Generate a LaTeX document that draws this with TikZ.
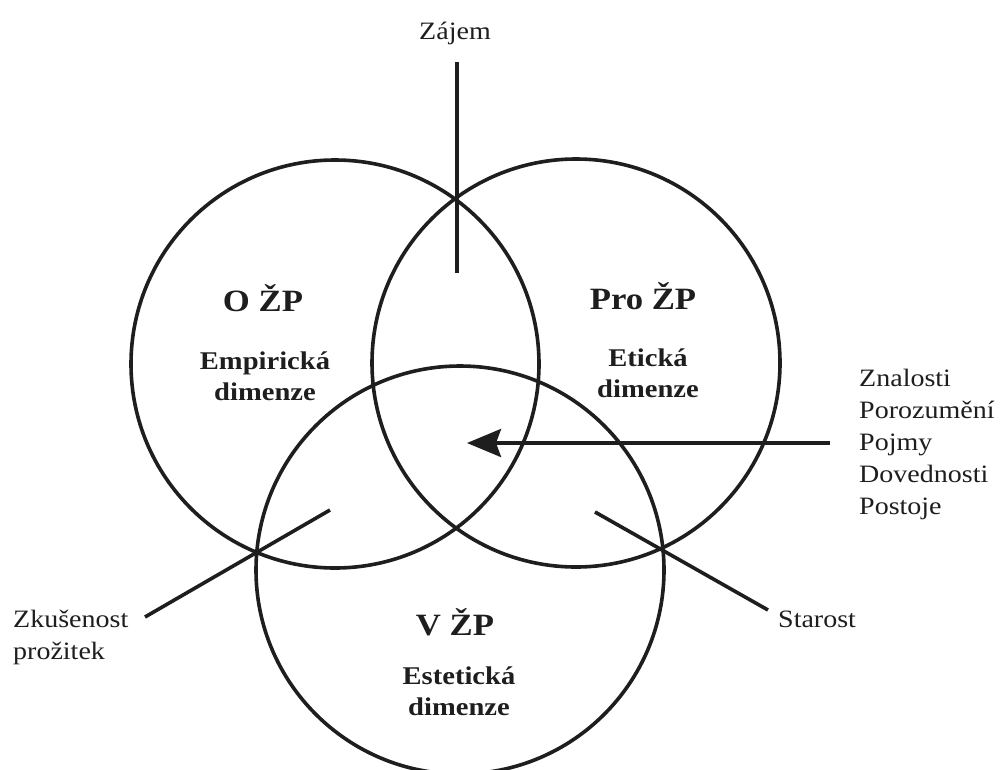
\documentclass[tikz,border=0pt]{standalone}
\usepackage{fontspec}
\setmainfont{Liberation Serif}[FakeStretch=1.12]
\usetikzlibrary{arrows.meta}
\definecolor{ink}{RGB}{30,30,30}
\begin{document}
\begin{tikzpicture}[x=1pt,y=-1pt,
  ring/.style={circle, draw=ink, line width=3.6pt, minimum size=408pt, inner sep=0pt, outer sep=0pt},
  conn/.style={draw=ink, line width=3.6pt},
  lbl/.style={text=ink, inner sep=0pt, font=\fontsize{25}{32}\selectfont},
  bigl/.style={text=ink, inner sep=0pt, font=\bfseries\fontsize{31}{34}\selectfont},
  diml/.style={text=ink, inner sep=0pt, align=center, font=\bfseries\fontsize{25.5}{31}\selectfont}]
\useasboundingbox (0,0) rectangle (1001,769);
\fill[white] (0,0) rectangle (1001,769);
% circles
\node[ring] (L) at (335,364) {};
\node[ring] (R) at (576,363) {};
\node[ring] (B) at (460,570) {};
% circle labels
\node[bigl] (ozp) at (263,298) {O ŽP};
\node[diml] (emp) at (265,376) {Empirická\\dimenze};
\node[bigl] (prozp) at (643,296) {Pro ŽP};
\node[diml] (eti) at (648,373) {Etická\\dimenze};
\node[bigl] (vzp) at (455,622) {V ŽP};
\node[diml] (est) at (459,691) {Estetická\\dimenze};
% outer labels
\node[lbl] (zajem) at (455,33) {Zájem};
\node[lbl, anchor=base west] (znal) at (859,386) {Znalosti};
\node[lbl, anchor=base west] (poro) at (859,418) {Porozumění};
\node[lbl, anchor=base west] (pojmy) at (859,450) {Pojmy};
\node[lbl, anchor=base west] (dov) at (859,482) {Dovednosti};
\node[lbl, anchor=base west] (post) at (859,514) {Postoje};
\node[lbl, anchor=base west] (zkus) at (13,627) {Zkušenost};
\node[lbl, anchor=base west] (proz) at (13,659) {prožitek};
\node[lbl, anchor=base west] (star) at (778,627) {Starost};
% connector end points
\coordinate (zA) at (457,62);
\coordinate (zB) at (457,273);
\coordinate (kA) at (145,617);
\coordinate (kB) at (330,510);
\coordinate (sA) at (768,610);
\coordinate (sB) at (595,512);
\coordinate (aA) at (830,443);
\coordinate (aB) at (467,443);
% connectors
\draw[conn] (zA) -- (zB);
\draw[conn] (kA) -- (kB);
\draw[conn] (sA) -- (sB);
\draw[conn, -{Stealth[length=34pt, width=28pt, inset=5pt]}] (aA) -- (aB);
\end{tikzpicture}
\end{document}
